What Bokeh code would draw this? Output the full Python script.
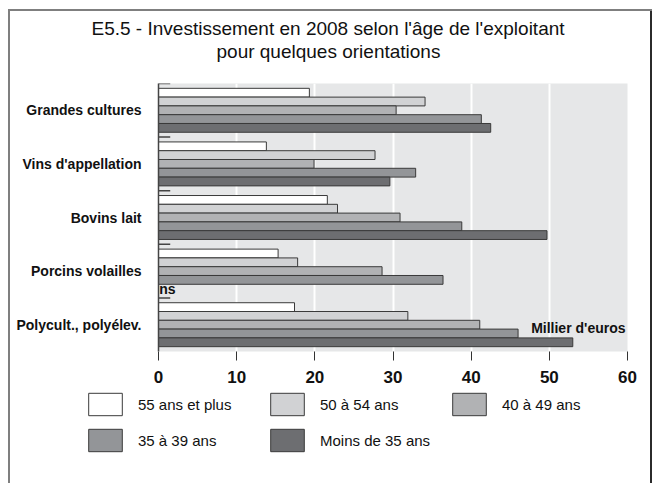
from bokeh.plotting import figure
from bokeh.models import (FactorRange, Range1d, FixedTicker, Label, Legend,
                          LegendItem, ColumnDataSource, Title)
from bokeh.transform import dodge
from bokeh.embed import file_html
from bokeh.resources import INLINE

# ---------------- data ----------------
categories = ["Grandes cultures", "Vins d'appellation", "Bovins lait",
              "Porcins volailles", "Polycult., polyélev."]
series = ["55 ans et plus", "50 à 54 ans", "40 à 49 ans",
          "35 à 39 ans", "Moins de 35 ans"]
v_55plus = [19.3, 13.8, 21.6, 15.3, 17.4]
v_50_54 = [34.1, 27.7, 22.9, 17.8, 31.9]
v_40_49 = [30.4, 19.9, 30.9, 28.6, 41.1]
v_35_39 = [41.3, 32.9, 38.8, 36.4, 46.0]
v_moins35 = [42.5, 29.6, 49.7, float("nan"), 53.0]   # "ns" for Porcins volailles
x_ticks = [0, 10, 20, 30, 40, 50, 60]
title_lines = ["E5.5 - Investissement en 2008 selon l'âge de l'exploitant",
               "pour quelques orientations"]
unit_label = "Millier d'euros"
ns_label = "ns"
ns_category = "Porcins volailles"

values = [v_55plus, v_50_54, v_40_49, v_35_39, v_moins35]

# ---------------- style ----------------
colors = ["#ffffff", "#d1d2d4", "#b1b2b4", "#939598", "#6d6e71"]
edge = "#3a3a3a"
bar_h = 0.164
offsets = [2 * bar_h, bar_h, 0.0, -bar_h, -2 * bar_h]
FONT = "Liberation Sans"
INK = "#111111"

W = 654
H1, H2 = 390, 93
FL, FR, FT, FB = 158, 27, 83, 39
XMAX = 60
px_x = (W - FL - FR) / XMAX
px_y = (H1 - FT - FB) / len(categories)

factors = categories[::-1]
p = figure(width=W, height=H1, output_backend="svg", toolbar_location=None,
           y_range=FactorRange(factors=factors), x_range=Range1d(0, XMAX),
           min_border_left=FL, min_border_right=FR, min_border_top=FT,
           min_border_bottom=FB)
p.background_fill_color = "#e6e7e8"
p.border_fill_color = None
p.outline_line_color = None
p.styles = {
    "background": ("linear-gradient(#7f7f7f,#7f7f7f) 8px 9px / 2px 100% no-repeat, "
                   "linear-gradient(#7f7f7f,#7f7f7f) 8px 9px / 644px 2px no-repeat, "
                   "linear-gradient(#2b2b2b,#2b2b2b) 650px 9px / 2px 100% no-repeat, "
                   "#ffffff")
}

renderers = []
for s, vals, col, off in zip(series, values, colors, offsets):
    src = ColumnDataSource(dict(cat=categories, val=vals))
    r = p.hbar(y=dodge("cat", off, range=p.y_range), left=0, right="val",
               height=bar_h, fill_color=col, line_color=edge,
               line_width=1, source=src)
    renderers.append(r)

# small marks at the top of each group
seg_src = ColumnDataSource(dict(cat=categories))
p.segment(x0=0, x1=1.5, y0=dodge("cat", 0.5, range=p.y_range),
          y1=dodge("cat", 0.5, range=p.y_range), line_color="#444",
          line_width=1.5, source=seg_src)

# grid / axes
p.ygrid.grid_line_color = None
p.xgrid.grid_line_color = "white"
p.xgrid.grid_line_width = 2
p.xaxis.ticker = FixedTicker(ticks=x_ticks)
p.xaxis.axis_line_color = None
p.xaxis.major_tick_out = 9
p.xaxis.major_tick_in = 0
p.xaxis.major_tick_line_color = "#333"
p.xaxis.minor_tick_line_color = None
p.xaxis.major_label_standoff = 10
p.xaxis.major_label_text_font = FONT
p.xaxis.major_label_text_font_style = "bold"
p.xaxis.major_label_text_font_size = "17px"
p.xaxis.major_label_text_color = INK

p.yaxis.axis_line_color = "#444"
p.yaxis.axis_line_width = 1.5
p.yaxis.major_tick_line_color = None
p.yaxis.minor_tick_line_color = None
p.yaxis.major_label_standoff = 11
p.yaxis.major_label_text_font = FONT
p.yaxis.major_label_text_font_style = "bold"
p.yaxis.major_label_text_font_size = "14px"
p.yaxis.major_label_text_color = INK

# title (panels stack outward from the frame)
p.add_layout(Title(text=" ", text_font_size="8px", standoff=11), "above")
p.add_layout(Title(text=title_lines[1], align="left", offset=58,
                   text_font=FONT, text_font_size="19px",
                   text_font_style="normal", text_color=INK,
                   standoff=0), "above")
p.add_layout(Title(text=title_lines[0], align="left", offset=-67,
                   text_font=FONT, text_font_size="19px",
                   text_font_style="normal", text_color=INK,
                   standoff=0), "above")

# unit label
pc = factors.index(categories[-1]) + 0.5
p.add_layout(Label(x=XMAX - 2 / px_x, y=pc - 3.5 / px_y, text=unit_label,
                   text_align="right", text_baseline="middle",
                   text_font=FONT, text_font_style="bold",
                   text_font_size="14px", text_color=INK))

# ns label
ny = factors.index(ns_category) + 0.5 + offsets[4]
p.add_layout(Label(x=0.1, y=ny, text=ns_label, text_align="left",
                   text_baseline="middle", text_font=FONT,
                   text_font_style="bold", text_font_size="14px",
                   text_color=INK))

# ---------------- legend strip (separate root) ----------------
q = figure(width=W, height=H2, output_backend="svg", toolbar_location=None,
           x_range=Range1d(0, 1), y_range=Range1d(0, 1), min_border=0,
           x_axis_location=None, y_axis_location=None)
q.grid.visible = False
q.outline_line_color = None
q.background_fill_color = None
q.border_fill_color = None
q.styles = {
    "background": ("linear-gradient(#7f7f7f,#7f7f7f) 8px 0 / 2px 100% no-repeat, "
                   "linear-gradient(#2b2b2b,#2b2b2b) 650px 0 / 2px 100% no-repeat, "
                   "#ffffff")
}

swatches = []
for vals, col in zip(values, colors):
    src = ColumnDataSource(dict(y=[0.5], v=vals[:1]))
    swatches.append(q.hbar(y="y", right="v", left=0, height=0.1,
                           fill_color=col, line_color=edge, line_width=1,
                           source=src, visible=False))

legend = Legend(items=[LegendItem(label=s, renderers=[r])
                       for s, r in zip(series, swatches)],
                location=(84, 29), orientation="horizontal", ncols=3,
                glyph_width=42, glyph_height=28, label_standoff=12,
                label_width=120, label_height=28, spacing=8, padding=0,
                margin=0, border_line_color=None, background_fill_alpha=0,
                label_text_font=FONT, label_text_font_size="15px",
                label_text_color=INK)
q.add_layout(legend, "center")

open("out.html", "w").write(file_html([p, q], INLINE))
